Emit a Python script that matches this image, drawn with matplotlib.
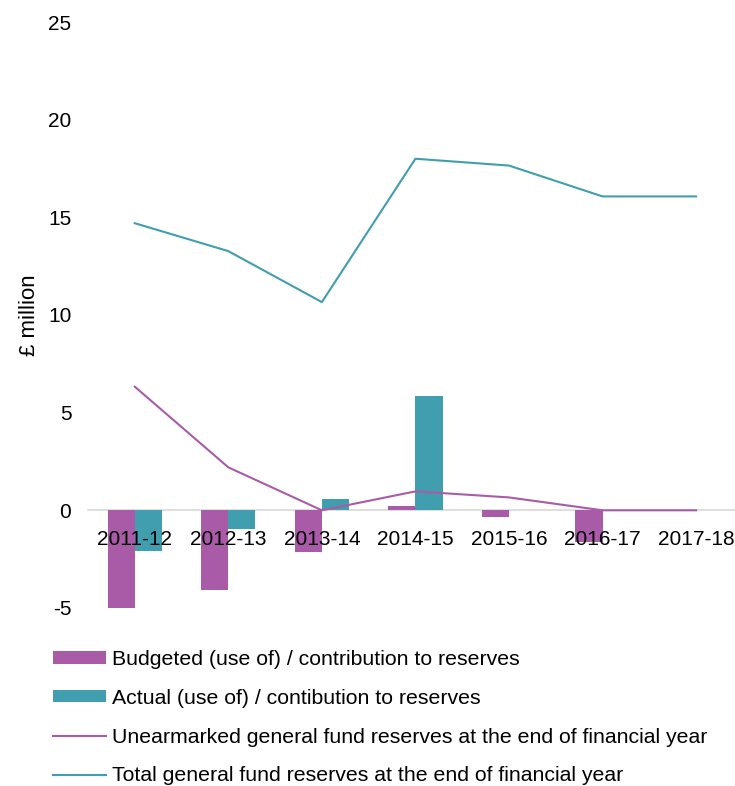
import numpy as np
import matplotlib
matplotlib.use("Agg")
import matplotlib.pyplot as plt

plt.rcParams['font.family'] = ['Liberation Sans', 'DejaVu Sans']
plt.rcParams['axes.unicode_minus'] = False

years = ['2011-12', '2012-13', '2013-14', '2014-15', '2015-16', '2016-17', '2017-18']
budgeted = [-5.05, -4.08, -2.15, 0.2, -0.35, -1.6, 0.0]
actual = [-2.1, -0.97, 0.6, 5.87, 0.0, 0.0, 0.0]
unearmarked = [6.33, 2.2, 0.0, 0.97, 0.66, 0.0, 0.0]
total = [14.7, 13.27, 10.66, 18.0, 17.65, 16.07, 16.07]

labels = ['Budgeted (use of) / contribution to reserves',
          'Actual (use of) / contibution to reserves',
          'Unearmarked general fund reserves at the end of financial year',
          'Total general fund reserves at the end of financial year']

purple = '#A95BA8'
teal = '#419EAE'

fig = plt.figure(figsize=(7.35, 7.86), dpi=100)
ax = fig.add_axes([0.1197, 0.2265, 0.891, 0.7455])

x = np.arange(len(years))
w = 0.29
b1 = ax.bar(x - w / 2, budgeted, w, color=purple, label=labels[0], zorder=2)
b2 = ax.bar(x + w / 2, actual, w, color=teal, label=labels[1], zorder=2)
l1, = ax.plot(x, unearmarked, color=purple, lw=1.5, label=labels[2], zorder=3)
l2, = ax.plot(x, total, color=teal, lw=1.5, label=labels[3], zorder=3)

ax.set_xlim(-0.5, 6.5)
ax.set_ylim(-5, 25)
ax.set_yticks(range(-5, 26, 5))
ax.set_xticks(x)
ax.set_xticklabels(years)
ax.set_axisbelow(False)

for s in ['top', 'right', 'left']:
    ax.spines[s].set_visible(False)
ax.spines['bottom'].set_position(('data', 0))
ax.spines['bottom'].set_color('#d9d9d9')
ax.spines['bottom'].set_linewidth(1.2)
ax.spines['bottom'].set_zorder(1)

ax.tick_params(axis='both', length=0, labelsize=15)
ax.tick_params(axis='x', pad=14)
ax.tick_params(axis='y', pad=12)

ax.set_ylabel('£ million', fontsize=16, labelpad=6)

# legend runs off the bottom edge, as in the original
fig.legend(handles=[b1, b2, l1, l2], labels=labels, loc='upper left',
           bbox_to_anchor=(0.072, 0.173), frameon=False, fontsize=15.3,
           borderaxespad=0, borderpad=0, handlelength=2.5, handleheight=0.5,
           handletextpad=0.3, labelspacing=0.93)

fig.savefig('out.png', dpi=100)
